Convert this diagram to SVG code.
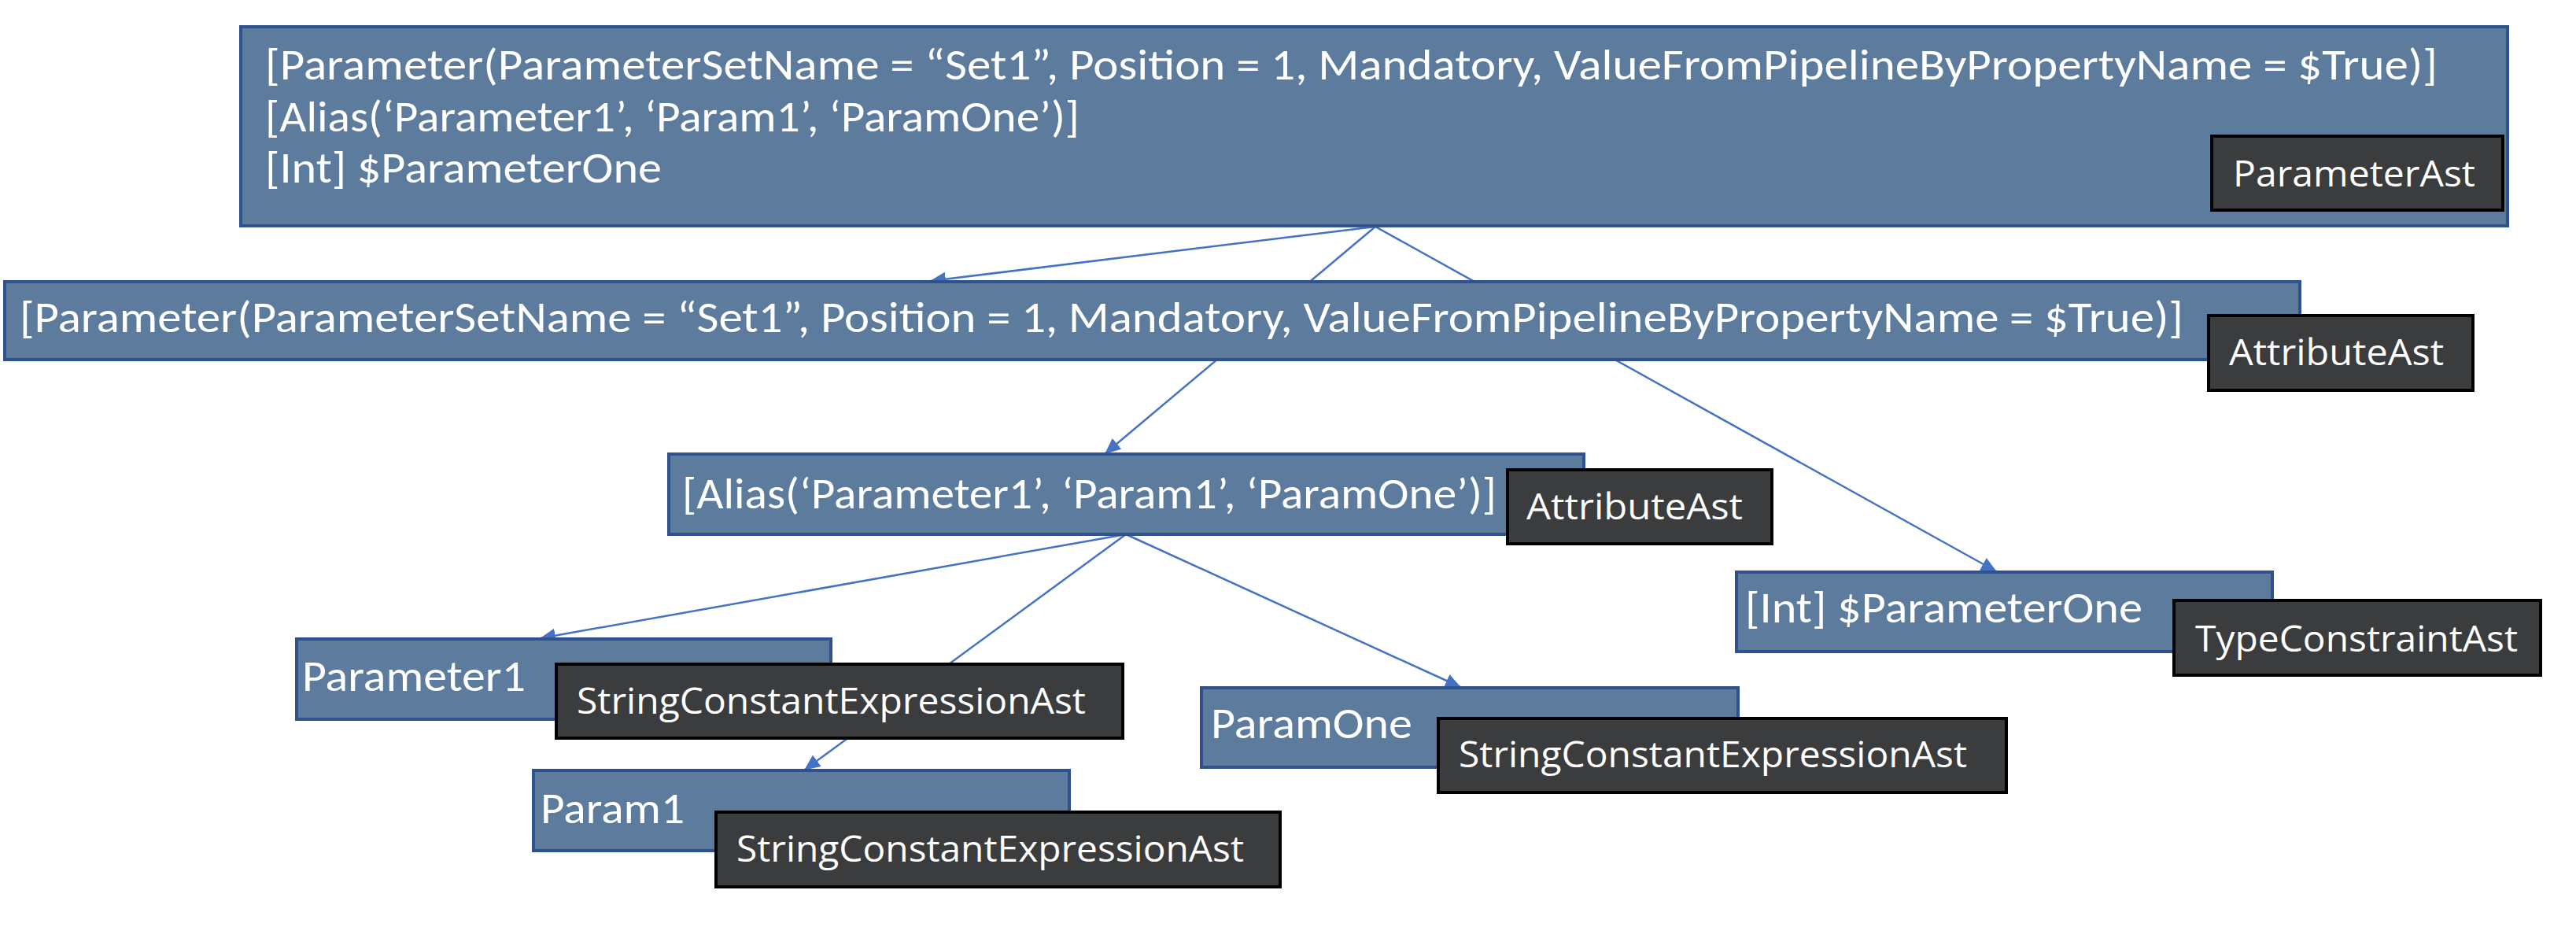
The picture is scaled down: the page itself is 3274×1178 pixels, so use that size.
<svg xmlns="http://www.w3.org/2000/svg" width="3274" height="1178" viewBox="0 0 3274 1178">
<style>
.box{fill:#5C7B9D;stroke:#2F528F;stroke-width:4}
.lbl{fill:#3B3C3E;stroke:#000;stroke-width:4}
.t{font-family:Carlito,Calibri,Lato,"Liberation Sans",sans-serif;font-size:55px;fill:#fff}
.lt{font-family:"Segoe UI","Open Sans","Noto Sans",sans-serif;font-size:46px;fill:#fff}
.c{stroke:#4472C4;stroke-width:2.5;fill:none;marker-end:url(#ah)}
</style>
<defs>
<marker id="ah" viewBox="0 0 20 20" refX="19" refY="10" markerWidth="20" markerHeight="20" markerUnits="userSpaceOnUse" orient="auto">
<path d="M0,1 L20,10 L0,19 z" fill="#4472C4"/>
</marker>
</defs>
<rect width="3274" height="1178" fill="#fff"/>
<g id="connectors">
<line class="c" x1="1748" y1="288" x2="1183" y2="357"/>
<line class="c" x1="1748" y1="288" x2="1405" y2="576"/>
<line class="c" x1="1748" y1="288" x2="2537" y2="726"/>
<line class="c" x1="1431" y1="679" x2="687" y2="811"/>
<line class="c" x1="1431" y1="679" x2="1023" y2="978"/>
<line class="c" x1="1431" y1="679" x2="1856" y2="873"/>
</g>
<g id="parameterAst">
<rect class="box" x="306" y="34" width="2881" height="253"/>
<text class="t" x="337" y="101" textLength="2761" lengthAdjust="spacingAndGlyphs">[Parameter(ParameterSetName = “Set1”, Position = 1, Mandatory, ValueFromPipelineByPropertyName = $True)]</text>
<text class="t" x="337" y="167" textLength="1035" lengthAdjust="spacingAndGlyphs">[Alias(‘Parameter1’, ‘Param1’, ‘ParamOne’)]</text>
<text class="t" x="337" y="232" textLength="504" lengthAdjust="spacingAndGlyphs">[Int] $ParameterOne</text>
<rect class="lbl" x="2811" y="173" width="370" height="94"/>
<text class="lt" x="2838" y="237" textLength="308" lengthAdjust="spacingAndGlyphs">ParameterAst</text>
</g>
<g id="attributeAst1">
<rect class="box" x="6" y="358" width="2917" height="99"/>
<text class="t" x="25" y="422" textLength="2750" lengthAdjust="spacingAndGlyphs">[Parameter(ParameterSetName = “Set1”, Position = 1, Mandatory, ValueFromPipelineByPropertyName = $True)]</text>
<rect class="lbl" x="2807" y="401" width="336" height="95"/>
<text class="lt" x="2833" y="464" textLength="273" lengthAdjust="spacingAndGlyphs">AttributeAst</text>
</g>
<g id="attributeAst2">
<rect class="box" x="850" y="577" width="1163" height="102"/>
<text class="t" x="867" y="646" textLength="1035" lengthAdjust="spacingAndGlyphs">[Alias(‘Parameter1’, ‘Param1’, ‘ParamOne’)]</text>
<rect class="lbl" x="1916" y="597" width="336" height="94"/>
<text class="lt" x="1940" y="660" textLength="275" lengthAdjust="spacingAndGlyphs">AttributeAst</text>
</g>
<g id="typeConstraintAst">
<rect class="box" x="2207" y="727" width="681" height="101"/>
<text class="t" x="2218" y="791" textLength="505" lengthAdjust="spacingAndGlyphs">[Int] $ParameterOne</text>
<rect class="lbl" x="2763" y="763" width="466" height="95"/>
<text class="lt" x="2790" y="828" textLength="410" lengthAdjust="spacingAndGlyphs">TypeConstraintAst</text>
</g>
<g id="parameter1">
<rect class="box" x="377" y="812" width="679" height="102"/>
<text class="t" x="384" y="878" textLength="284" lengthAdjust="spacingAndGlyphs">Parameter1</text>
<rect class="lbl" x="707" y="844" width="720" height="94"/>
<text class="lt" x="733" y="907" textLength="647" lengthAdjust="spacingAndGlyphs">StringConstantExpressionAst</text>
</g>
<g id="paramOne">
<rect class="box" x="1527" y="874" width="682" height="101"/>
<text class="t" x="1539" y="938" textLength="256" lengthAdjust="spacingAndGlyphs">ParamOne</text>
<rect class="lbl" x="1828" y="913" width="722" height="94"/>
<text class="lt" x="1854" y="975" textLength="646" lengthAdjust="spacingAndGlyphs">StringConstantExpressionAst</text>
</g>
<g id="param1">
<rect class="box" x="678" y="979" width="681" height="102"/>
<text class="t" x="687" y="1046" textLength="183" lengthAdjust="spacingAndGlyphs">Param1</text>
<rect class="lbl" x="910" y="1032" width="717" height="95"/>
<text class="lt" x="936" y="1095" textLength="645" lengthAdjust="spacingAndGlyphs">StringConstantExpressionAst</text>
</g>
</svg>
